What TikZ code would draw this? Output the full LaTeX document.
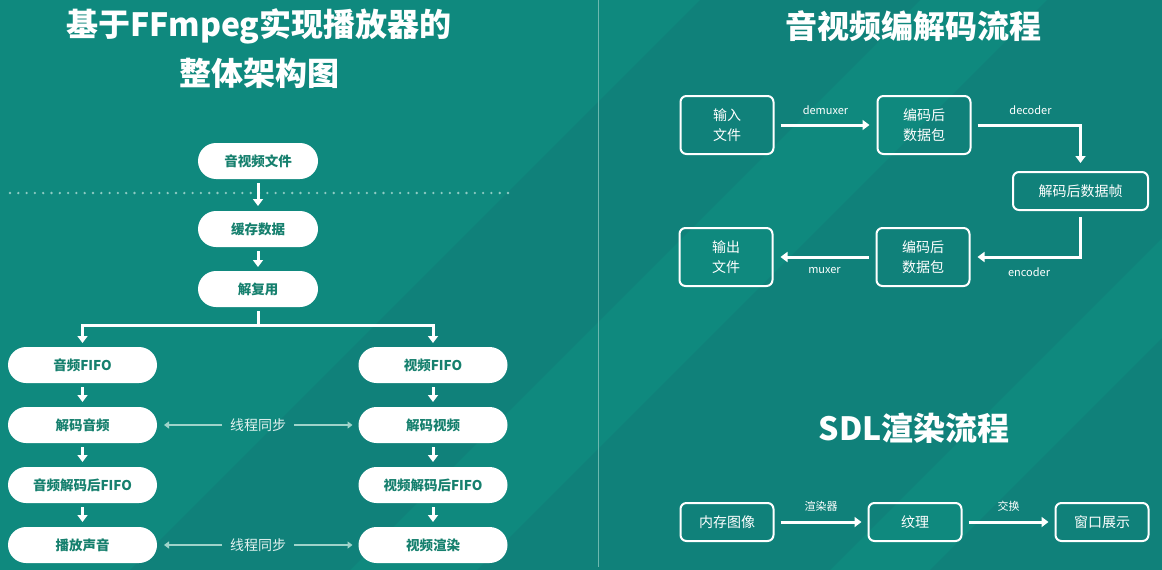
\documentclass[tikz,border=0pt]{standalone}
\usepackage{fontspec}
\setmainfont{Noto Sans CJK SC}
\usepackage{xcolor}
\usetikzlibrary{positioning,arrows.meta}

\definecolor{bgA}{HTML}{0F897E}
\definecolor{bgB}{HTML}{10817A}
\definecolor{pilltxt}{HTML}{16806E}
\definecolor{syncc}{HTML}{9FD3CA}
\definecolor{synctxt}{HTML}{E2F2EF}
\definecolor{dotc}{HTML}{8FCBC3}
\definecolor{sepc}{HTML}{6DB8AF}

\begin{document}
\begin{tikzpicture}[
  x=1pt, y=-1pt,
  node distance=24pt and 95pt,
  pill/.style={fill=white, rounded corners=18pt, minimum height=36pt, minimum width=#1, font=\fontsize{13.5}{16}\selectfont\bfseries, text=pilltxt, inner sep=0pt, outer sep=0pt},
  pill/.default=149pt,
  box/.style={draw=white, line width=2pt, rounded corners=6pt, minimum height=#1, minimum width=93pt, font=\fontsize{14}{20}\selectfont, text=white, align=center, inner sep=0pt, outer sep=0pt},
  box/.default=58pt,
  ttl/.style={font=\fontsize{32}{40}\selectfont\bfseries, text=white},
  arr/.style={-{Triangle[length=7pt,width=10pt]}, line width=3pt, white},
  syn/.style={-{Triangle[length=5pt,width=7pt]}, line width=1.6pt, syncc},
  lbl/.style={font=\fontsize{11}{13}\selectfont, text=white, inner sep=1pt},
  sync/.style={font=\fontsize{14}{16}\selectfont, text=synctxt, inner xsep=8pt, outer sep=0pt},
  >=stealth
]

% ── Background ───────────────────────────────────────────────
\useasboundingbox (0,0) rectangle (1162,570);
\begin{scope}
  \clip (0,0) rectangle (1162,570);
  \fill[bgA] (0,0) rectangle (1162,570);
  \fill[bgB] (700,0) -- (920,0) -- (350,570) -- (130,570) -- cycle;
  \fill[bgB] (1047,0) -- (1400,0) -- (830,570) -- (477,570) -- cycle;
  \fill[bgB] (1500,0) -- (1800,0) -- (1230,570) -- (930,570) -- cycle;
\end{scope}
\draw[sepc, line width=1pt] (598,0) -- (598,567);

% ── Player architecture (left) ───────────────────────────────
\node[ttl] (t1a) at (259,26) {基于FFmpeg实现播放器的};
\node[ttl] (t1b) at (259,73) {整体架构图};

\node[pill=120pt] (file)  at (258,161)        {音视频文件};
\node[pill=120pt, below=32pt of file] (cache) {缓存数据};
\node[pill=120pt, below=24pt of cache] (demux) {解复用};

\draw[dotc, line width=2.6pt, line cap=round, dash pattern=on 0pt off 8.3pt] (10,193) -- (508,193);

\draw[arr, shorten <=4pt, shorten >=5pt] (file) -- (cache);
\draw[arr, shorten <=4pt, shorten >=4pt] (cache) -- (demux);

% audio column
\node[pill] (afifo) at (82.5,365)         {音频FIFO};
\node[pill, below=of afifo]  (adec)       {解码音频};
\node[pill, below=of adec]   (aqueue)     {音频解码后FIFO};
\node[pill, below=of aqueue] (aplay)      {播放声音};

% video column
\node[pill] (vfifo) at (433,365)          {视频FIFO};
\node[pill, below=of vfifo]  (vdec)       {解码视频};
\node[pill, below=of vdec]   (vqueue)     {视频解码后FIFO};
\node[pill, below=of vqueue] (vrender)    {视频渲染};

% split
\coordinate (split) at (258,325);
\draw[white, line width=3pt, shorten <=4pt] (demux) -- (split);
\draw[arr, shorten >=4pt] (split) -| (afifo.north);
\draw[arr, shorten >=4pt] (split) -| (vfifo.north);

\draw[arr, shorten <=4pt, shorten >=5pt] (afifo)  -- (adec);
\draw[arr, shorten <=4pt, shorten >=5pt] (adec)   -- (aqueue);
\draw[arr, shorten <=4pt, shorten >=5pt] (aqueue) -- (aplay);
\draw[arr, shorten <=4pt, shorten >=5pt] (vfifo)  -- (vdec);
\draw[arr, shorten <=4pt, shorten >=5pt] (vdec)   -- (vqueue);
\draw[arr, shorten <=4pt, shorten >=5pt] (vqueue) -- (vrender);

% thread sync
\node[sync] (sync1) at (258,425) {线程同步};
\node[sync] (sync2) at (258,545) {线程同步};
\draw[syn, shorten >=7pt] (sync1.west) -- (adec.east);
\draw[syn, shorten >=6pt] (sync1.east) -- (vdec.west);
\draw[syn, shorten >=7pt] (sync2.west) -- (aplay.east);
\draw[syn, shorten >=6pt] (sync2.east) -- (vrender.west);

% ── Codec flow (right top) ───────────────────────────────────
\node[ttl] (t2) at (913,26) {音视频编解码流程};

\node[box] (infile) at (727,125)       {输入\\文件};
\node[box, right=104pt of infile] (pkt1) {编码后\\数据包};
\node[box=38pt, minimum width=135pt] (frame) at (1080.5,191) {解码后数据帧};
\node[box] (pkt2) at (923,257)         {编码后\\数据包};
\node[box, left=104pt of pkt2] (outfile) {输出\\文件};

\draw[arr, shorten <=7pt, shorten >=8pt] (infile) -- node[lbl, above=8pt] {demuxer} (pkt1);
\draw[arr, shorten <=7pt, shorten >=9pt] (pkt1.east) -| node[lbl, pos=0.25, above=8pt, xshift=5pt] {decoder} (frame.north);
\draw[arr, shorten <=7pt, shorten >=8pt] (frame.south) |- node[lbl, pos=0.75, below=8pt, xshift=4pt] {encoder} (pkt2.east);
\draw[arr, shorten <=8pt, shorten >=8pt] (pkt2) -- node[lbl, below=8pt] {muxer} (outfile);

% ── SDL flow (right bottom) ──────────────────────────────────
\node[ttl] (t3) at (914,428) {SDL渲染流程};

\node[box=38pt] (mem) at (727,522)     {内存图像};
\node[box=38pt, right=95pt of mem] (tex) {纹理};
\node[box=38pt, right=94pt of tex] (win) {窗口展示};

\draw[arr, shorten <=7pt, shorten >=7pt] (mem) -- node[lbl, above=8pt] {渲染器} (tex);
\draw[arr, shorten <=7pt, shorten >=7pt] (tex) -- node[lbl, above=8pt] {交换} (win);

\end{tikzpicture}
\end{document}
